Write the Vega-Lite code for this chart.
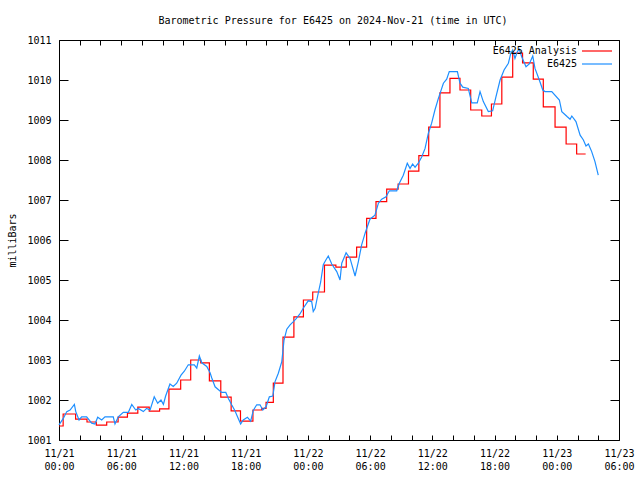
{
  "$schema": "https://vega.github.io/schema/vega-lite/v6.json",
  "autosize": {"type": "none"},
  "width": 560,
  "height": 400,
  "padding": {"left": 59, "top": 40, "right": 21, "bottom": 40},
  "background": "white",
  "title": {"text": "Barometric Pressure for E6425 on 2024-Nov-21 (time in UTC)", "font": "DejaVu Sans Mono", "fontSize": 10, "fontWeight": "normal", "color": "black", "anchor": "middle", "offset": 9, "dx": -6},
  "config": {
    "view": {"stroke": "black", "strokeWidth": 1},
    "axis": {"labelFont": "DejaVu Sans Mono", "labelFontSize": 10, "labelColor": "black", "tickColor": "black", "titleFont": "DejaVu Sans Mono", "titleFontSize": 10, "titleFontWeight": "normal", "titleColor": "black", "grid": false, "domain": false}
  },
  "datasets": {
    "analysis": [
      {"time": "2024-11-21 00:00", "mb": 1001.35},
      {"time": "2024-11-21 00:24", "mb": 1001.65},
      {"time": "2024-11-21 01:36", "mb": 1001.52},
      {"time": "2024-11-21 02:42", "mb": 1001.45},
      {"time": "2024-11-21 03:36", "mb": 1001.37},
      {"time": "2024-11-21 04:36", "mb": 1001.45},
      {"time": "2024-11-21 05:42", "mb": 1001.57},
      {"time": "2024-11-21 06:36", "mb": 1001.67},
      {"time": "2024-11-21 07:36", "mb": 1001.82},
      {"time": "2024-11-21 08:42", "mb": 1001.72},
      {"time": "2024-11-21 09:42", "mb": 1001.78},
      {"time": "2024-11-21 10:36", "mb": 1002.27},
      {"time": "2024-11-21 11:44", "mb": 1002.50},
      {"time": "2024-11-21 12:42", "mb": 1003.00},
      {"time": "2024-11-21 13:40", "mb": 1002.93},
      {"time": "2024-11-21 14:30", "mb": 1002.48},
      {"time": "2024-11-21 15:36", "mb": 1002.07},
      {"time": "2024-11-21 16:36", "mb": 1001.73},
      {"time": "2024-11-21 17:30", "mb": 1001.47},
      {"time": "2024-11-21 18:42", "mb": 1001.75},
      {"time": "2024-11-21 19:33", "mb": 1001.79},
      {"time": "2024-11-21 19:58", "mb": 1001.94},
      {"time": "2024-11-21 20:40", "mb": 1002.42},
      {"time": "2024-11-21 21:36", "mb": 1003.57},
      {"time": "2024-11-21 22:39", "mb": 1004.08},
      {"time": "2024-11-21 23:34", "mb": 1004.50},
      {"time": "2024-11-22 00:28", "mb": 1004.70},
      {"time": "2024-11-22 01:36", "mb": 1005.37},
      {"time": "2024-11-22 02:42", "mb": 1005.32},
      {"time": "2024-11-22 03:42", "mb": 1005.57},
      {"time": "2024-11-22 04:42", "mb": 1005.82},
      {"time": "2024-11-22 05:40", "mb": 1006.54},
      {"time": "2024-11-22 06:34", "mb": 1006.96},
      {"time": "2024-11-22 07:36", "mb": 1007.27},
      {"time": "2024-11-22 08:42", "mb": 1007.40},
      {"time": "2024-11-22 09:42", "mb": 1007.72},
      {"time": "2024-11-22 10:42", "mb": 1008.11},
      {"time": "2024-11-22 11:39", "mb": 1008.82},
      {"time": "2024-11-22 12:44", "mb": 1009.68},
      {"time": "2024-11-22 13:42", "mb": 1010.04},
      {"time": "2024-11-22 14:40", "mb": 1009.75},
      {"time": "2024-11-22 15:42", "mb": 1009.25},
      {"time": "2024-11-22 16:46", "mb": 1009.10},
      {"time": "2024-11-22 17:42", "mb": 1009.40},
      {"time": "2024-11-22 18:42", "mb": 1010.07},
      {"time": "2024-11-22 19:45", "mb": 1010.67},
      {"time": "2024-11-22 20:42", "mb": 1010.43},
      {"time": "2024-11-22 21:44", "mb": 1010.02},
      {"time": "2024-11-22 22:42", "mb": 1009.33},
      {"time": "2024-11-22 23:50", "mb": 1008.82},
      {"time": "2024-11-23 00:54", "mb": 1008.40},
      {"time": "2024-11-23 01:55", "mb": 1008.15},
      {"time": "2024-11-23 02:47", "mb": 1008.15}
    ],
    "obs": [
      {"time": "2024-11-21 00:00", "mb": 1001.38},
      {"time": "2024-11-21 00:25", "mb": 1001.54},
      {"time": "2024-11-21 00:45", "mb": 1001.71},
      {"time": "2024-11-21 01:04", "mb": 1001.75},
      {"time": "2024-11-21 01:29", "mb": 1001.89},
      {"time": "2024-11-21 01:37", "mb": 1001.71},
      {"time": "2024-11-21 01:56", "mb": 1001.50},
      {"time": "2024-11-21 02:11", "mb": 1001.58},
      {"time": "2024-11-21 02:40", "mb": 1001.58},
      {"time": "2024-11-21 03:09", "mb": 1001.42},
      {"time": "2024-11-21 03:28", "mb": 1001.40},
      {"time": "2024-11-21 03:44", "mb": 1001.57},
      {"time": "2024-11-21 04:07", "mb": 1001.50},
      {"time": "2024-11-21 04:26", "mb": 1001.58},
      {"time": "2024-11-21 05:14", "mb": 1001.58},
      {"time": "2024-11-21 05:24", "mb": 1001.40},
      {"time": "2024-11-21 05:43", "mb": 1001.58},
      {"time": "2024-11-21 06:12", "mb": 1001.69},
      {"time": "2024-11-21 06:41", "mb": 1001.69},
      {"time": "2024-11-21 07:01", "mb": 1001.89},
      {"time": "2024-11-21 07:24", "mb": 1001.75},
      {"time": "2024-11-21 07:39", "mb": 1001.79},
      {"time": "2024-11-21 08:08", "mb": 1001.71},
      {"time": "2024-11-21 08:27", "mb": 1001.79},
      {"time": "2024-11-21 08:47", "mb": 1001.75},
      {"time": "2024-11-21 09:11", "mb": 1002.08},
      {"time": "2024-11-21 09:31", "mb": 1001.92},
      {"time": "2024-11-21 09:50", "mb": 1002.00},
      {"time": "2024-11-21 10:04", "mb": 1001.89},
      {"time": "2024-11-21 10:17", "mb": 1002.10},
      {"time": "2024-11-21 10:42", "mb": 1002.40},
      {"time": "2024-11-21 11:01", "mb": 1002.34},
      {"time": "2024-11-21 11:21", "mb": 1002.42},
      {"time": "2024-11-21 11:46", "mb": 1002.62},
      {"time": "2024-11-21 12:05", "mb": 1002.72},
      {"time": "2024-11-21 12:28", "mb": 1002.88},
      {"time": "2024-11-21 13:03", "mb": 1002.88},
      {"time": "2024-11-21 13:17", "mb": 1002.80},
      {"time": "2024-11-21 13:32", "mb": 1003.10},
      {"time": "2024-11-21 13:46", "mb": 1002.93},
      {"time": "2024-11-21 14:15", "mb": 1002.84},
      {"time": "2024-11-21 14:34", "mb": 1002.68},
      {"time": "2024-11-21 14:44", "mb": 1002.55},
      {"time": "2024-11-21 15:03", "mb": 1002.33},
      {"time": "2024-11-21 15:41", "mb": 1002.19},
      {"time": "2024-11-21 16:05", "mb": 1002.19},
      {"time": "2024-11-21 16:20", "mb": 1002.04},
      {"time": "2024-11-21 16:39", "mb": 1001.88},
      {"time": "2024-11-21 16:58", "mb": 1001.73},
      {"time": "2024-11-21 17:17", "mb": 1001.54},
      {"time": "2024-11-21 17:31", "mb": 1001.40},
      {"time": "2024-11-21 17:46", "mb": 1001.50},
      {"time": "2024-11-21 18:10", "mb": 1001.57},
      {"time": "2024-11-21 18:29", "mb": 1001.47},
      {"time": "2024-11-21 18:44", "mb": 1001.74},
      {"time": "2024-11-21 19:04", "mb": 1001.88},
      {"time": "2024-11-21 19:23", "mb": 1001.88},
      {"time": "2024-11-21 19:39", "mb": 1001.75},
      {"time": "2024-11-21 19:58", "mb": 1001.83},
      {"time": "2024-11-21 20:17", "mb": 1002.08},
      {"time": "2024-11-21 20:37", "mb": 1002.10},
      {"time": "2024-11-21 20:50", "mb": 1002.46},
      {"time": "2024-11-21 21:09", "mb": 1002.67},
      {"time": "2024-11-21 21:29", "mb": 1002.96},
      {"time": "2024-11-21 21:42", "mb": 1003.50},
      {"time": "2024-11-21 21:58", "mb": 1003.77},
      {"time": "2024-11-21 22:17", "mb": 1003.88},
      {"time": "2024-11-21 22:36", "mb": 1003.96},
      {"time": "2024-11-21 22:51", "mb": 1004.03},
      {"time": "2024-11-21 23:14", "mb": 1004.15},
      {"time": "2024-11-21 23:34", "mb": 1004.30},
      {"time": "2024-11-22 00:02", "mb": 1004.48},
      {"time": "2024-11-22 00:22", "mb": 1004.46},
      {"time": "2024-11-22 00:31", "mb": 1004.21},
      {"time": "2024-11-22 00:42", "mb": 1004.29},
      {"time": "2024-11-22 00:54", "mb": 1004.55},
      {"time": "2024-11-22 01:14", "mb": 1004.95},
      {"time": "2024-11-22 01:29", "mb": 1005.38},
      {"time": "2024-11-22 01:44", "mb": 1005.50},
      {"time": "2024-11-22 01:58", "mb": 1005.60},
      {"time": "2024-11-22 02:18", "mb": 1005.40},
      {"time": "2024-11-22 02:47", "mb": 1005.21},
      {"time": "2024-11-22 03:06", "mb": 1005.00},
      {"time": "2024-11-22 03:16", "mb": 1005.42},
      {"time": "2024-11-22 03:41", "mb": 1005.68},
      {"time": "2024-11-22 04:04", "mb": 1005.54},
      {"time": "2024-11-22 04:33", "mb": 1005.10},
      {"time": "2024-11-22 04:52", "mb": 1005.46},
      {"time": "2024-11-22 05:11", "mb": 1005.88},
      {"time": "2024-11-22 05:31", "mb": 1006.17},
      {"time": "2024-11-22 05:59", "mb": 1006.52},
      {"time": "2024-11-22 06:28", "mb": 1006.62},
      {"time": "2024-11-22 06:48", "mb": 1006.92},
      {"time": "2024-11-22 07:07", "mb": 1007.02},
      {"time": "2024-11-22 07:32", "mb": 1007.08},
      {"time": "2024-11-22 07:51", "mb": 1007.23},
      {"time": "2024-11-22 08:34", "mb": 1007.23},
      {"time": "2024-11-22 08:49", "mb": 1007.42},
      {"time": "2024-11-22 09:12", "mb": 1007.62},
      {"time": "2024-11-22 09:35", "mb": 1007.92},
      {"time": "2024-11-22 09:51", "mb": 1007.79},
      {"time": "2024-11-22 10:06", "mb": 1007.90},
      {"time": "2024-11-22 10:20", "mb": 1007.82},
      {"time": "2024-11-22 10:39", "mb": 1007.92},
      {"time": "2024-11-22 10:59", "mb": 1008.08},
      {"time": "2024-11-22 11:18", "mb": 1008.29},
      {"time": "2024-11-22 11:37", "mb": 1008.67},
      {"time": "2024-11-22 11:56", "mb": 1008.92},
      {"time": "2024-11-22 12:15", "mb": 1009.25},
      {"time": "2024-11-22 12:35", "mb": 1009.54},
      {"time": "2024-11-22 12:48", "mb": 1009.71},
      {"time": "2024-11-22 13:04", "mb": 1009.92},
      {"time": "2024-11-22 13:23", "mb": 1010.02},
      {"time": "2024-11-22 13:38", "mb": 1010.21},
      {"time": "2024-11-22 14:25", "mb": 1010.21},
      {"time": "2024-11-22 14:40", "mb": 1009.92},
      {"time": "2024-11-22 14:56", "mb": 1009.82},
      {"time": "2024-11-22 15:28", "mb": 1009.79},
      {"time": "2024-11-22 15:48", "mb": 1009.43},
      {"time": "2024-11-22 16:20", "mb": 1009.43},
      {"time": "2024-11-22 16:36", "mb": 1009.71},
      {"time": "2024-11-22 16:55", "mb": 1009.46},
      {"time": "2024-11-22 17:24", "mb": 1009.21},
      {"time": "2024-11-22 17:49", "mb": 1009.23},
      {"time": "2024-11-22 18:08", "mb": 1009.58},
      {"time": "2024-11-22 18:32", "mb": 1010.00},
      {"time": "2024-11-22 18:55", "mb": 1010.25},
      {"time": "2024-11-22 19:20", "mb": 1010.42},
      {"time": "2024-11-22 19:34", "mb": 1010.67},
      {"time": "2024-11-22 19:45", "mb": 1010.75},
      {"time": "2024-11-22 19:58", "mb": 1010.54},
      {"time": "2024-11-22 20:12", "mb": 1010.71},
      {"time": "2024-11-22 20:23", "mb": 1010.77},
      {"time": "2024-11-22 20:37", "mb": 1010.58},
      {"time": "2024-11-22 21:02", "mb": 1010.33},
      {"time": "2024-11-22 21:21", "mb": 1010.40},
      {"time": "2024-11-22 21:41", "mb": 1010.60},
      {"time": "2024-11-22 21:54", "mb": 1010.29},
      {"time": "2024-11-22 22:19", "mb": 1010.00},
      {"time": "2024-11-22 22:39", "mb": 1009.75},
      {"time": "2024-11-22 22:52", "mb": 1009.71},
      {"time": "2024-11-22 23:31", "mb": 1009.71},
      {"time": "2024-11-23 00:15", "mb": 1009.50},
      {"time": "2024-11-23 00:29", "mb": 1009.21},
      {"time": "2024-11-23 01:01", "mb": 1009.08},
      {"time": "2024-11-23 01:17", "mb": 1009.02},
      {"time": "2024-11-23 01:27", "mb": 1009.10},
      {"time": "2024-11-23 01:51", "mb": 1008.96},
      {"time": "2024-11-23 02:15", "mb": 1008.62},
      {"time": "2024-11-23 02:34", "mb": 1008.50},
      {"time": "2024-11-23 02:49", "mb": 1008.35},
      {"time": "2024-11-23 03:03", "mb": 1008.40},
      {"time": "2024-11-23 03:22", "mb": 1008.21},
      {"time": "2024-11-23 03:41", "mb": 1007.96},
      {"time": "2024-11-23 04:00", "mb": 1007.62}
    ]
  },
  "layer": [
    {
      "data": {"name": "analysis", "format": {"parse": {"time": "utc:'%Y-%m-%d %H:%M'"}}},
      "mark": {"type": "line", "interpolate": "step-after", "strokeWidth": 1.2},
      "encoding": {
        "x": {"field": "time", "type": "temporal",
          "scale": {"type": "utc", "domain": [1732147200000, 1732341600000], "nice": false},
          "axis": {"orient": "bottom", "title": null,
            "values": [1732147200000, 1732154400000, 1732161600000, 1732168800000, 1732176000000, 1732183200000, 1732190400000, 1732197600000, 1732204800000, 1732212000000, 1732219200000, 1732226400000, 1732233600000, 1732240800000, 1732248000000, 1732255200000, 1732262400000, 1732269600000, 1732276800000, 1732284000000, 1732291200000, 1732298400000, 1732305600000, 1732312800000, 1732320000000, 1732327200000, 1732334400000, 1732341600000],
            "labelExpr": "utchours(datum.value) % 6 == 0 ? [utcFormat(datum.value, '%m/%d'), utcFormat(datum.value, '%H:%M')] : ''",
            "tickSize": -5,
            "encode": {"ticks": {"update": {"y2": {"signal": "utchours(datum.value) % 6 == 0 ? -9 : -5"}}}},
            "labelPadding": 13, "labelBaseline": "top", "labelLineHeight": 13, "labelAngle": 0, "labelFlush": false, "labelOverlap": false}},
        "y": {"field": "mb", "type": "quantitative",
          "scale": {"domain": [1001, 1011], "nice": false, "zero": false},
          "axis": {"orient": "left", "title": "milliBars", "values": [1001, 1002, 1003, 1004, 1005, 1006, 1007, 1008, 1009, 1010, 1011],
            "tickSize": -9, "labelPadding": 17, "format": "d", "titleX": -47, "titleY": 200, "titleAngle": -90, "titleAlign": "center", "titleBaseline": "middle"}},
        "color": {"datum": "E6425 Analysis", "type": "nominal",
          "scale": {"domain": ["E6425 Analysis", "E6425"], "range": ["#ff0000", "#1e8fff"]},
          "legend": {"title": null, "orient": "none", "legendX": 532, "legendY": 5, "padding": 0,
            "symbolType": "M-3,0H3", "symbolSize": 100, "symbolStrokeWidth": 1, "rowPadding": 2,
            "labelAlign": "right", "labelOffset": -26, "labelFont": "DejaVu Sans Mono", "labelFontSize": 10, "labelColor": "black", "labelLimit": 300,
            "encode": {"symbols": {"update": {"stroke": {"scale": "color", "field": "value"}, "strokeWidth": {"value": 1.2}, "fill": {"value": "transparent"}}}}}}
      }
    },
    {
      "data": {"name": "obs", "format": {"parse": {"time": "utc:'%Y-%m-%d %H:%M'"}}},
      "mark": {"type": "line", "strokeWidth": 1.2},
      "encoding": {
        "x": {"field": "time", "type": "temporal",
          "axis": {"orient": "top", "title": null, "labels": false,
            "values": [1732147200000, 1732154400000, 1732161600000, 1732168800000, 1732176000000, 1732183200000, 1732190400000, 1732197600000, 1732204800000, 1732212000000, 1732219200000, 1732226400000, 1732233600000, 1732240800000, 1732248000000, 1732255200000, 1732262400000, 1732269600000, 1732276800000, 1732284000000, 1732291200000, 1732298400000, 1732305600000, 1732312800000, 1732320000000, 1732327200000, 1732334400000, 1732341600000],
            "tickSize": -5,
            "encode": {"ticks": {"update": {"y2": {"signal": "utchours(datum.value) % 6 == 0 ? 9 : 5"}}}}}},
        "y": {"field": "mb", "type": "quantitative",
          "axis": {"orient": "right", "title": null, "labels": false, "values": [1001, 1002, 1003, 1004, 1005, 1006, 1007, 1008, 1009, 1010, 1011], "tickSize": -9}},
        "color": {"datum": "E6425", "type": "nominal"}
      }
    }
  ],
  "resolve": {"axis": {"x": "independent", "y": "independent"}}
}
